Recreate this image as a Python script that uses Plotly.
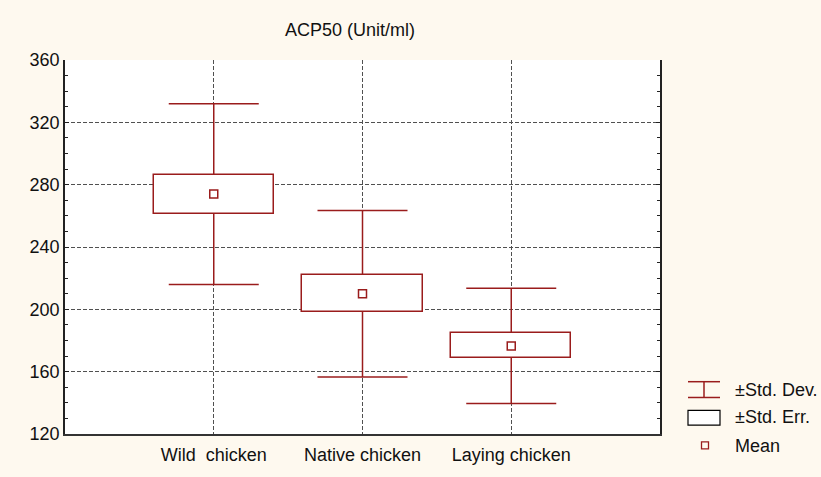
import plotly.graph_objects as go

categories = ["Wild  chicken", "Native chicken", "Laying chicken"]
means = [274.0, 210.0, 176.5]
std_err = [12.5, 12.0, 8.0]
std_dev = [58.0, 53.5, 37.0]
y_ticks = [120, 160, 200, 240, 280, 320, 360]
legend_labels = ["±Std. Dev.", "±Std. Err.", "Mean"]

RED = "#9A1C1C"
BG = "#FEF9EF"
GRID = "#505050"
FONT = "Liberation Sans, Arial, sans-serif"

W, H = 821, 477
ML, MR, MT, MB = 65, 161, 60, 38
PW, PH = W - ML - MR, H - MT - MB


def px(x):
    return (x - ML) / PW


def py(y):
    return (H - MB - y) / PH


xpos = [i + 1 for i in range(len(categories))]
box_base = [m - s for m, s in zip(means, std_err)]
box_h = [2 * s for s in std_err]

fig = go.Figure()

# SD whiskers (bottom layer, primary y axis)
fig.add_trace(go.Scatter(
    x=xpos, y=means, mode="markers", yaxis="y",
    marker=dict(size=1, color="rgba(0,0,0,0)"),
    error_y=dict(type="data", array=std_dev, color=RED, thickness=1.5, width=45),
    showlegend=False, hoverinfo="skip"))

# SE boxes (overlay axis, drawn above whiskers)
fig.add_trace(go.Bar(
    x=xpos, y=box_h, base=box_base, width=0.81, yaxis="y2",
    marker=dict(color="white", line=dict(color=RED, width=1.5)),
    showlegend=False, hoverinfo="skip"))

# Means
fig.add_trace(go.Scatter(
    x=xpos, y=means, mode="markers", yaxis="y2",
    marker=dict(symbol="square-open", size=8, color=RED, line=dict(width=1.5)),
    showlegend=False, hoverinfo="skip"))

# Hand-drawn legend (decoration, paper coordinates)
shapes = [
    dict(type="line", x0=px(688), x1=px(720), y0=py(386), y1=py(386),
         line=dict(color=RED, width=1.5)),
    dict(type="line", x0=px(688), x1=px(720), y0=py(402), y1=py(402),
         line=dict(color=RED, width=1.5)),
    dict(type="line", x0=px(704), x1=px(704), y0=py(386), y1=py(402),
         line=dict(color=RED, width=1.5)),
    dict(type="rect", x0=px(688), x1=px(720), y0=py(415), y1=py(430),
         line=dict(color="black", width=1.2), fillcolor="white"),
    dict(type="rect", x0=px(701.5), x1=px(708.5), y0=py(447), y1=py(454),
         line=dict(color=RED, width=1.3), fillcolor="rgba(0,0,0,0)"),
]
for s in shapes:
    s["xref"] = "paper"
    s["yref"] = "paper"
annotations = []
for lab, yc in zip(legend_labels, [394, 422, 451]):
    annotations.append(dict(text=lab, x=px(733), y=py(yc), xref="paper", yref="paper",
                            xanchor="left", yanchor="middle", showarrow=False,
                            font=dict(family=FONT, size=18, color="#111")))

fig.update_layout(
    width=W, height=H,
    margin=dict(l=ML, r=MR, t=MT, b=MB),
    paper_bgcolor=BG, plot_bgcolor="white",
    font=dict(family=FONT, size=18, color="#111"),
    title=dict(text="ACP50 (Unit/ml)", x=350 / W, xanchor="center",
               y=1 - 30 / H, yanchor="middle",
               font=dict(family=FONT, size=18, color="#111")),
    showlegend=False,
    shapes=shapes, annotations=annotations,
    bargap=0,
    yaxis2=dict(overlaying="y", range=[120, 360], visible=False,
                showgrid=False, zeroline=False),
)
fig.update_xaxes(
    range=[0, 4], tickvals=xpos, ticktext=categories,
    showgrid=True, gridcolor=GRID, griddash="4px,2px", gridwidth=1,
    showline=True, linecolor="#333", linewidth=1.5,
    ticks="", zeroline=False, ticklabelstandoff=4,
)
fig.update_layout(yaxis=dict(
    range=[120, 360], tickvals=y_ticks,
    showgrid=True, gridcolor=GRID, griddash="4px,2px", gridwidth=1,
    showline=True, linecolor="#222", linewidth=1.5, mirror="ticks",
    ticks="inside", ticklen=4, tickcolor="#222",
    minor=dict(dtick=10, ticks="inside", ticklen=3, tickcolor="#222", showgrid=False),
    zeroline=False,
))

fig.write_html(
    "out.html",
    config={"displayModeBar": False},
    post_script="document.body.style.margin='0';document.body.style.overflow='hidden';",
)
